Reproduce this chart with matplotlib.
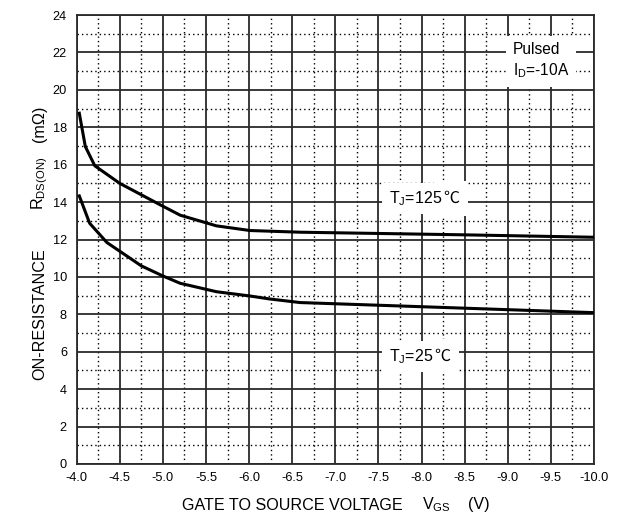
import matplotlib
matplotlib.use("Agg")
import matplotlib.pyplot as plt
from matplotlib.ticker import MultipleLocator, FormatStrFormatter

plt.rcParams["font.family"] = ["Liberation Sans", "DejaVu Sans"]
plt.rcParams["mathtext.fontset"] = "custom"
plt.rcParams["mathtext.rm"] = "Liberation Sans"
plt.rcParams["mathtext.it"] = "Liberation Sans"
plt.rcParams["mathtext.bf"] = "Liberation Sans"

# gate-source voltage (V) and on-resistance (mOhm)
vgs_125 = [-4.03, -4.10, -4.21, -4.50, -4.97, -5.20, -5.62, -6.01, -6.59, -8.49, -10.0]
rds_125 = [18.75, 16.97, 15.94, 15.0, 13.85, 13.3, 12.73, 12.48, 12.39, 12.25, 12.12]
vgs_25 = [-4.03, -4.15, -4.35, -4.75, -5.0, -5.2, -5.62, -6.01, -6.24, -6.59, -8.49, -10.0]
rds_25 = [14.33, 12.87, 11.84, 10.59, 10.05, 9.66, 9.21, 8.98, 8.82, 8.63, 8.33, 8.09]

curve_labels = ["T$_\\mathregular{J}$=125", "T$_\\mathregular{J}$=25"]
label_pos = [(-7.62, 13.95), (-7.62, 5.5)]
note_text = "Pulsed\nI$_\\mathregular{D}$=-10A"

W, H = 622, 520
fig = plt.figure(figsize=(W / 100, H / 100), dpi=100)
ax = fig.add_axes([76.7 / W, 1 - 464 / H, (594 - 76.7) / W, (464 - 15) / H])

ax.set_xlim(-4.0, -10.0)
ax.set_ylim(0, 24)
ax.xaxis.set_major_locator(MultipleLocator(0.5))
ax.xaxis.set_minor_locator(MultipleLocator(0.25))
ax.yaxis.set_major_locator(MultipleLocator(2))
ax.yaxis.set_minor_locator(MultipleLocator(1))
ax.xaxis.set_major_formatter(FormatStrFormatter("%.1f"))

ax.grid(which="major", color="#2a2a2a", linewidth=1.3, linestyle="-")
ax.grid(which="minor", color="black", linewidth=1.0, linestyle=(0, (1, 2.2)))
ax.set_axisbelow(True)
ax.tick_params(which="both", length=0, labelsize=9.2, colors="black")
ax.tick_params(axis="x", pad=6)
ax.tick_params(axis="y", pad=7)
for s in ax.spines.values():
    s.set_linewidth(1.3)
    s.set_color("#2a2a2a")

ax.plot(vgs_125, rds_125, color="black", linewidth=2.2, zorder=3)
ax.plot(vgs_25, rds_25, color="black", linewidth=2.2, zorder=3)

white = dict(facecolor="white", edgecolor="none")
for txt, (x, y) in zip(curve_labels, label_pos):
    t = ax.text(x, y, txt, fontsize=11.5, ha="left", va="baseline",
                bbox=dict(boxstyle="square,pad=0.4", **white), zorder=4)
    # degree-Celsius sign from a font that has it; a hidden copy carries the white box
    for z, col, bb in [(3.9, (0, 0, 0, 0), dict(boxstyle="square,pad=0.55", **white)),
                       (6, "black", None)]:
        ax.annotate("\u2103", xy=(1, y), xycoords=(t, "data"), xytext=(0.5, 0),
                    textcoords="offset points", fontsize=11.5,
                    family=["Noto Sans CJK SC", "DejaVu Sans"], ha="left",
                    va="baseline", color=col, bbox=bb, zorder=z)
ax.text(-9.06, 21.55, note_text, fontsize=11.2, ha="left", va="center",
        linespacing=1.35, bbox=dict(boxstyle="square,pad=0.45", **white), zorder=4)

# axis titles placed piecewise like the datasheet
fs = 11.6
fig.text(182 / W, 1 - 505 / H, "GATE TO SOURCE VOLTAGE", fontsize=fs, ha="left", va="center")
fig.text(422 / W, 1 - 505 / H, "V$_\\mathregular{GS}$", fontsize=fs, ha="left", va="center")
fig.text(468 / W, 1 - 505 / H, "(V)", fontsize=fs, ha="left", va="center")

fig.text(40 / W, 1 - 380 / H, "ON-RESISTANCE", fontsize=fs, rotation=90, ha="center", va="bottom")
fig.text(40 / W, 1 - 210 / H, "R$_\\mathregular{DS(ON)}$", fontsize=fs, rotation=90, ha="center", va="bottom")
fig.text(40 / W, 1 - 142 / H, "(m\u03a9)", fontsize=fs, rotation=90, ha="center", va="bottom")

fig.savefig("out.png", dpi=100, facecolor="white")
